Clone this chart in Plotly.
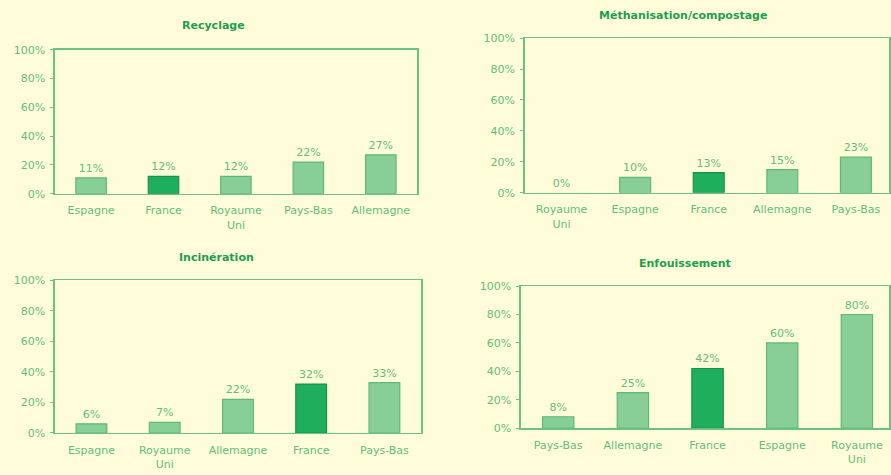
import plotly.graph_objects as go

# Data
titles = ["Recyclage", "Méthanisation/compostage", "Incinération", "Enfouissement"]

recyclage_pays = ["Espagne", "France", "Royaume<br>Uni", "Pays-Bas", "Allemagne"]
recyclage_vals = [11, 12, 12, 22, 27]

methan_pays = ["Royaume<br>Uni", "Espagne", "France", "Allemagne", "Pays-Bas"]
methan_vals = [0, 10, 13, 15, 23]

incin_pays = ["Espagne", "Royaume<br>Uni", "Allemagne", "France", "Pays-Bas"]
incin_vals = [6, 7, 22, 32, 33]

enfouis_pays = ["Pays-Bas", "Allemagne", "France", "Espagne", "Royaume<br>Uni"]
enfouis_vals = [8, 25, 42, 60, 80]

y_ticks = [0, 20, 40, 60, 80, 100]
y_tick_labels = ["0%", "20%", "40%", "60%", "80%", "100%"]

BG = "#FFFCDA"
LIGHT = "#88CF97"
LIGHT_LINE = "#5DB975"
DARK = "#1FAE5C"
DARK_LINE = "#17924C"
TXT = "#5FBF78"
TITLE = "#1E9E4E"
AXIS = "#6CC282"
FONT = "DejaVu Sans"
FS = 11

panels = [
    (recyclage_pays, recyclage_vals),
    (methan_pays, methan_vals),
    (incin_pays, incin_vals),
    (enfouis_pays, enfouis_vals),
]

x_domains = [[0.0617, 0.4691], [0.5903, 1.0], [0.0617, 0.4736], [0.5859, 1.0]]
y_domains = [[0.5937, 0.9053], [0.5958, 0.9305], [0.0758, 0.4063], [0.0863, 0.3937]]
x_ranges = [[-0.5, 4.5], [-0.5, 4.45], [-0.5, 4.5], [-0.5, 4.43]]
title_pos = [(214, 20), (685, 10), (217, 259), (687, 265)]

fig = go.Figure()
layout = {}
for i, (cats, vals) in enumerate(panels):
    n = "" if i == 0 else str(i + 1)
    colors = [DARK if c == "France" else LIGHT for c in cats]
    lcolors = [DARK_LINE if c == "France" else LIGHT_LINE for c in cats]
    lwidths = [0 if v == 0 else 1.2 for v in vals]
    fig.add_trace(go.Bar(
        x=cats, y=vals,
        xaxis="x" + n, yaxis="y" + n,
        marker=dict(color=colors, line=dict(color=lcolors, width=lwidths)),
        width=0.42,
        text=[f"{v}%" for v in vals],
        textposition="outside",
        textfont=dict(family=FONT, size=FS, color=TXT),
        cliponaxis=False,
        showlegend=False,
        hoverinfo="skip",
    ))
    layout["xaxis" + n] = dict(
        domain=x_domains[i], anchor="y" + n, type="category",
        categoryorder="array", categoryarray=cats,
        range=x_ranges[i],
        showline=True, linecolor=AXIS, linewidth=1.5, mirror=True,
        showgrid=False, ticks="", zeroline=False,
        ticklabelstandoff=6,
        tickfont=dict(family=FONT, size=FS, color=TXT),
        fixedrange=True,
    )
    layout["yaxis" + n] = dict(
        domain=y_domains[i], anchor="x" + n,
        range=[0, 100], tickvals=y_ticks, ticktext=y_tick_labels,
        showline=True, linecolor=AXIS, linewidth=1.5, mirror=True,
        showgrid=False, ticks="outside", ticklen=3, tickcolor=AXIS,
        zeroline=False,
        ticklabelstandoff=3,
        tickfont=dict(family=FONT, size=FS, color=TXT),
        fixedrange=True,
    )

annotations = []
for t, (px, py) in zip(titles, title_pos):
    annotations.append(dict(
        text=f"<b>{t}</b>", x=px / 891, y=1 - py / 475,
        xref="paper", yref="paper", showarrow=False,
        xanchor="center", yanchor="middle",
        font=dict(family=FONT, size=FS, color=TITLE),
    ))

fig.update_layout(
    width=891, height=475,
    margin=dict(l=0, r=0, t=0, b=0),
    paper_bgcolor=BG, plot_bgcolor=BG,
    annotations=annotations,
    **layout,
)

fig.write_html(
    "out.html",
    config={"displayModeBar": False, "staticPlot": True},
    post_script="document.body.style.margin='0';document.body.style.background='%s';" % BG,
)
